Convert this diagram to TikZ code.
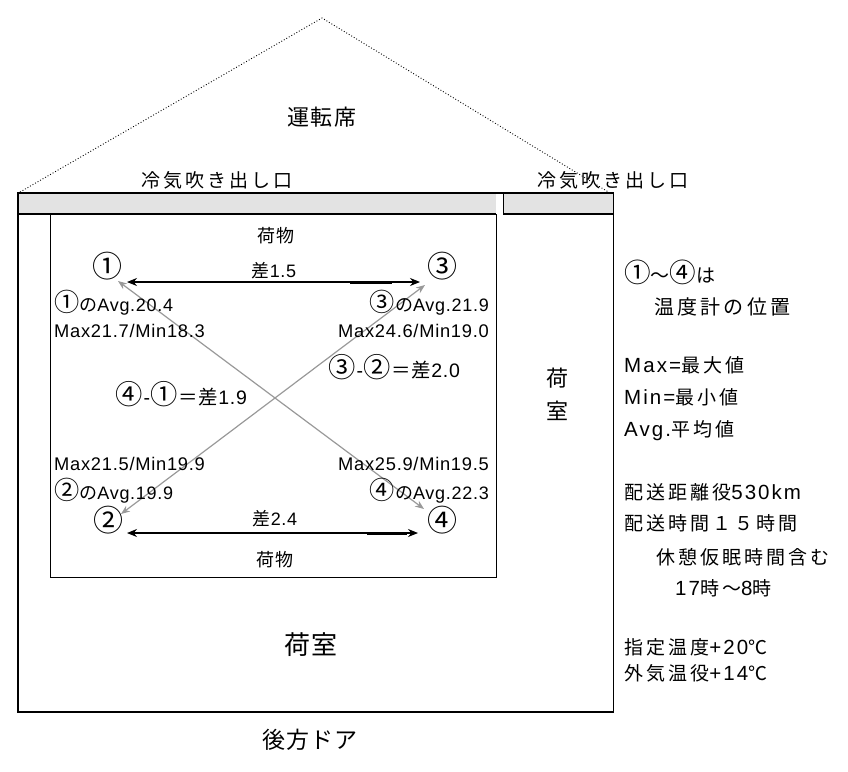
\documentclass[tikz,border=0pt]{standalone}
\usepackage{fontspec}
\usepackage{graphicx}
\setmainfont{Noto Sans CJK JP}[LetterSpace=5]
\newfontfamily\jpw{Noto Sans CJK JP}[LetterSpace=16]
\newfontfamily\latfam{Liberation Sans}[LetterSpace=4]
\newfontfamily\latwide{Liberation Sans}[LetterSpace=10]
\newcommand\la[1]{{\latfam #1}}
\newcommand\las[1]{{\latwide\fontsize{20.5}{22}\selectfont #1}}
\newcommand\cn[1]{\scalebox{1.4}{#1}}
\usetikzlibrary{arrows.meta}
\tikzset{
  lbl/.style={inner sep=0pt, font=\fontsize{18}{20}\selectfont},
  diff/.style={inner sep=0pt, font=\fontsize{19.5}{21}\selectfont},
  mm/.style={inner sep=0pt, font=\latfam\fontsize{18.3}{20}\selectfont},
  big/.style={inner sep=0pt, font=\fontsize{22}{24}\selectfont},
  circ/.style={inner sep=0pt, font=\fontsize{30}{32}\selectfont},
  side/.style={inner sep=0pt, anchor=west, font=\jpw\fontsize{19}{21}\selectfont},
  blackarrow/.style={draw=black, line width=1.1pt, {Stealth[length=10pt,width=8pt]}-{Stealth[length=10pt,width=8pt]}},
  grayarrow/.style={draw=gray!80, line width=1.2pt, {Stealth[length=9pt,width=7pt]}-{Stealth[length=9pt,width=7pt]}},
  thickline/.style={line width=2.6pt},
}
\begin{document}
\begin{tikzpicture}[x=1pt,y=-1pt]
\useasboundingbox (0,0) rectangle (848,771);
% roof
\coordinate (roofL) at (20,192);
\coordinate (roofT) at (322,18);
\coordinate (roofR) at (610,193);
\draw[dotted, line width=0.9pt] (roofL) -- (roofT) -- (roofR);
% gray bands
\fill[gray!22] (18,193) rectangle (496,214);
\fill[gray!22] (503,193) rectangle (613,214);
\draw[thickline] (18,193) -- (614,193);
\draw[line width=2pt] (18,214) -- (496,214);
\draw[line width=2pt] (503,214) -- (614,214);
\draw[line width=0.8pt] (503,193) -- (503,214);
% outer box
\draw[thickline] (18,192) -- (18,712) -- (613,712);
\draw[line width=1pt] (613,193) -- (613,713);
% inner cargo box
\draw[line width=0.9pt] (50,214) rectangle (496,577);
% texts
\node[big] (cab) at (322,117) {運転席};
\node[side, anchor=center] (ventL) at (217,180) {冷気吹き出し口};
\node[side, anchor=center] (ventR) at (613,180) {冷気吹き出し口};
\node[lbl] (cargoT) at (276,236) {荷物};
\node[lbl] (cargoB) at (275,560) {荷物};
% thermometers
\node[circ] (t1) at (107,266) {①};
\node[circ] (t3) at (442,266) {③};
\node[circ] (t2) at (108,520) {②};
\node[circ] (t4) at (442,520) {④};
% black arrows
\coordinate (a1) at (127,282);
\coordinate (a3) at (420,282);
\coordinate (a2) at (127,533);
\coordinate (a4) at (418,533);
\draw[blackarrow] (a1) -- (a3);
\draw[line width=3pt] (350,282) -- (392,282);
\draw[blackarrow] (a2) -- (a4);
\draw[line width=3pt] (367,533) -- (407,533);
\node[lbl] (d15) at (274,271) {差\la{1.5}};
\node[lbl] (d24) at (275,519) {差\la{2.4}};
% gray arrows
\coordinate (g1) at (118,281);
\coordinate (g4) at (424,509);
\coordinate (g2) at (121,514);
\coordinate (g3) at (425,285);
\draw[grayarrow] (g1) -- (g4);
\draw[grayarrow] (g2) -- (g3);
% readings
\node[lbl, anchor=west] (avg1) at (54,303) {\cn{①}の\la{Avg.20.4}};
\node[mm, anchor=west] (mm1) at (54,331) {Max21.7/Min18.3};
\node[lbl, anchor=east] (avg3) at (489,303) {\cn{③}の\la{Avg.21.9}};
\node[mm, anchor=east] (mm3) at (489,331) {Max24.6/Min19.0};
\node[diff, anchor=west] (diff32) at (328,367) {\cn{③}\la{\kern1pt-\kern1pt}\cn{②}＝差\la{2.0}};
\node[diff, anchor=west] (diff41) at (115,394) {\cn{④}\la{\kern1pt-\kern1pt}\cn{①}＝差\la{1.9}};
\node[mm, anchor=west] (mm2) at (54,464) {Max21.5/Min19.9};
\node[lbl, anchor=west] (avg2) at (54,491) {\cn{②}の\la{Avg.19.9}};
\node[mm, anchor=east] (mm4) at (489,464) {Max25.9/Min19.5};
\node[lbl, anchor=east] (avg4) at (489,491) {\cn{④}の\la{Avg.22.3}};
% cargo room labels
\node[big, align=center, font=\fontsize{22}{33}\selectfont] (roomR) at (557,394) {荷\\室};
\node[big, font=\fontsize{26}{28}\selectfont] (roomB) at (311,645) {荷室};
\node[big, font=\fontsize{23}{25}\selectfont] (door) at (310,740) {後方ドア};
% side notes
\node[side] (n1) at (624,272) {\cn{①}～\cn{④}は};
\node[side, font=\jpw\fontsize{20}{22}\selectfont] (n2) at (654,307) {温度計の位置};
\node[side] (n3) at (624,365) {\las{Max=}最大値};
\node[side] (n4) at (624,397) {\las{Min=}最小値};
\node[side] (n5) at (624,431) {\las{Avg.}平均値};
\node[side] (n6) at (624,492) {配送距離役\las{530km}};
\node[side] (n7) at (624,523) {配送時間１５時間};
\node[side] (n8) at (656,557) {休憩仮眠時間含む};
\node[side] (n9) at (675,588) {\las{17}時～\las{8}時};
\node[side] (n10) at (624,647) {指定温度\las{+20}℃};
\node[side] (n11) at (624,673) {外気温役\las{+14}℃};
\end{tikzpicture}
\end{document}
